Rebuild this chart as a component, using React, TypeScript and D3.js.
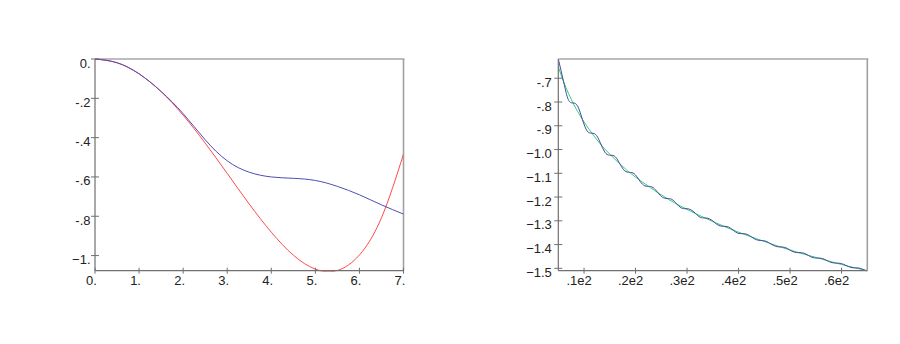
import { useEffect, useRef } from 'react';
import * as d3 from 'd3';

// left panel
const leftX = [0, 0.5, 1, 1.5, 2, 2.5, 3, 3.5, 4, 4.5, 5, 5.5, 6, 6.5, 7];
const leftRed = [0, -0.019, -0.076, -0.166, -0.286, -0.428, -0.582, -0.738, -0.881, -0.998, -1.069, -1.076, -0.997, -0.808, -0.484];
const leftBlue = [0, -0.019, -0.075, -0.165, -0.278, -0.411, -0.518, -0.576, -0.6, -0.607, -0.618, -0.648, -0.691, -0.742, -0.789];
const leftXTicks = [0, 1, 2, 3, 4, 5, 6, 7];
const leftXLabels = ['0.', '1.', '2.', '3.', '4.', '5.', '6.', '7.'];
const leftYTicks = [0, -0.2, -0.4, -0.6, -0.8, -1];
const leftYLabels = ['0.', '-.2', '-.4', '-.6', '-.8', '\u22121.'];

// right panel
const rightGreenX = [5, 6, 7, 8, 9, 10, 12, 14, 16, 18, 20, 25, 30, 35, 40, 45, 50, 55, 60, 65];
const rightGreen = [-0.652, -0.713, -0.765, -0.81, -0.849, -0.884, -0.945, -0.997, -1.041, -1.081, -1.116, -1.191, -1.252, -1.303, -1.348, -1.387, -1.423, -1.454, -1.484, -1.51];
const rightBlueX = [
  5, 6.032, 6.946, 7.86, 8.774, 9.688, 10.602, 11.516, 12.43, 13.344, 14.258, 15.172, 16.086, 17.0,
  17.914, 18.828, 19.742, 20.656, 21.57, 22.484, 23.398, 24.312, 25.226, 26.14, 27.054, 27.968,
  28.882, 29.796, 30.71, 31.624, 32.538, 33.452, 34.366, 35.28, 36.194, 37.108, 38.022, 38.936,
  39.85, 40.764, 41.678, 42.592, 43.506, 44.42, 45.334, 46.248, 47.162, 48.076, 48.99, 49.904,
  50.818, 51.732, 52.646, 53.56, 54.474, 55.388, 56.302, 57.216, 58.13, 59.044, 59.958, 60.872,
  61.786, 62.7, 63.614, 64.528, 65,
];
const rightBlue = [
  -0.619, -0.715, -0.79, -0.804, -0.818, -0.874, -0.922, -0.931, -0.941, -0.981, -1.017, -1.024, -1.031, -1.062,
  -1.09, -1.096, -1.102, -1.127, -1.15, -1.155, -1.16, -1.181, -1.201, -1.206, -1.21, -1.228,
  -1.246, -1.249, -1.253, -1.269, -1.285, -1.288, -1.292, -1.306, -1.32, -1.323, -1.326, -1.339,
  -1.352, -1.354, -1.357, -1.369, -1.38, -1.383, -1.386, -1.397, -1.407, -1.41, -1.412, -1.422,
  -1.432, -1.434, -1.436, -1.446, -1.455, -1.457, -1.459, -1.468, -1.476, -1.478, -1.48, -1.488,
  -1.496, -1.498, -1.5, -1.508, -1.511,
];
const rightXTicks = [10, 20, 30, 40, 50, 60];
const rightXLabels = ['.1e2', '.2e2', '.3e2', '.4e2', '.5e2', '.6e2'];
const rightYTicks = [-0.7, -0.8, -0.9, -1.0, -1.1, -1.2, -1.3, -1.4, -1.5];
const rightYLabels = ['-.7', '-.8', '-.9', '\u22121.0', '\u22121.1', '\u22121.2', '\u22121.3', '\u22121.4', '\u22121.5'];

type Series = { xs: number[]; ys: number[]; color: string };

function drawPanel(svg: any, id: string, opts: any) {
  const { left, right, top, bottom, xDomain, yDomain, series, xTicks, xLabels, yTicks, yLabels, xLabelShift, yLabelGap } = opts;

  const x = d3.scaleLinear().domain(xDomain).range([left, right]);
  const y = d3.scaleLinear().domain(yDomain).range([bottom, top]);

  const g = svg.append('g');

  g.append('clipPath')
    .attr('id', id)
    .append('rect')
    .attr('x', left)
    .attr('y', top - 1)
    .attr('width', right - left)
    .attr('height', bottom - top + 2);

  // frame: light top / right edges
  g.append('line')
    .attr('x1', left).attr('x2', right + 1)
    .attr('y1', top).attr('y2', top)
    .attr('stroke', '#bdbdbd').attr('stroke-width', 2);
  g.append('line')
    .attr('x1', right).attr('x2', right)
    .attr('y1', top).attr('y2', bottom)
    .attr('stroke', '#a0a0a0').attr('stroke-width', 1.6);

  // curves
  const line = d3.line<[number, number]>()
    .x((d) => x(d[0]))
    .y((d) => y(d[1]))
    .curve(d3.curveNatural);

  series.forEach((s: Series) => {
    const pts = s.xs.slice(0, Math.min(s.xs.length, s.ys.length)).map((v, i) => [v, s.ys[i]] as [number, number]);
    g.append('path')
      .attr('d', line(pts))
      .attr('fill', 'none')
      .attr('stroke', s.color)
      .attr('stroke-width', 1)
      .attr('clip-path', `url(#${id})`);
  });

  // axes
  g.append('line')
    .attr('x1', left).attr('x2', left)
    .attr('y1', top).attr('y2', bottom)
    .attr('stroke', '#707070').attr('stroke-width', 1.2);
  g.append('line')
    .attr('x1', left).attr('x2', right)
    .attr('y1', bottom).attr('y2', bottom)
    .attr('stroke', '#707070').attr('stroke-width', 1.2);

  // y ticks
  g.selectAll('line.yt')
    .data(yTicks)
    .enter()
    .append('line')
    .attr('class', 'yt')
    .attr('x1', left - 4).attr('x2', left + 4)
    .attr('y1', (d: number) => y(d)).attr('y2', (d: number) => y(d))
    .attr('stroke', '#707070').attr('stroke-width', 1);

  g.selectAll('text.yl')
    .data(yTicks)
    .enter()
    .append('text')
    .attr('class', 'yl')
    .attr('x', left - yLabelGap)
    .attr('y', (d: number) => y(d) + 8.5)
    .attr('text-anchor', 'end')
    .style('font-family', '"Liberation Sans", Arial, sans-serif')
    .style('font-size', '13px')
    .style('fill', '#222')
    .text((d: number, i: number) => yLabels[i]);

  // x ticks
  g.selectAll('line.xt')
    .data(xTicks)
    .enter()
    .append('line')
    .attr('class', 'xt')
    .attr('x1', (d: number) => x(d)).attr('x2', (d: number) => x(d))
    .attr('y1', bottom - 3).attr('y2', bottom + 3)
    .attr('stroke', '#707070').attr('stroke-width', 1);

  g.selectAll('text.xl')
    .data(xTicks)
    .enter()
    .append('text')
    .attr('class', 'xl')
    .attr('x', (d: number) => x(d) + xLabelShift)
    .attr('y', bottom + 14.5)
    .attr('text-anchor', 'middle')
    .style('font-family', '"Liberation Sans", Arial, sans-serif')
    .style('font-size', '13px')
    .style('fill', '#222')
    .text((d: number, i: number) => xLabels[i]);
}

export default function App() {
  const svgRef = useRef<SVGSVGElement>(null);

  useEffect(() => {
    const svg = d3.select(svgRef.current);
    svg.selectAll('*').remove();

    svg.append('rect').attr('width', 900).attr('height', 344).attr('fill', '#fff');

    drawPanel(svg, 'clipL', {
      left: 95, right: 403.5, top: 59, bottom: 270.7,
      xDomain: [0, 7], yDomain: [-1.077, 0],
      series: [
        { xs: leftX, ys: leftRed, color: '#ff4a4a' },
        { xs: leftX, ys: leftBlue, color: '#4d4db3' },
      ],
      xTicks: leftXTicks, xLabels: leftXLabels,
      yTicks: leftYTicks, yLabels: leftYLabels,
      xLabelShift: -3.5, yLabelGap: 4.5,
    });

    drawPanel(svg, 'clipR', {
      left: 558.3, right: 867.3, top: 59, bottom: 270.7,
      xDomain: [5, 65], yDomain: [-1.51, -0.619],
      series: [
        { xs: rightGreenX, ys: rightGreen, color: '#33cc70' },
        { xs: rightBlueX, ys: rightBlue, color: '#4848a8' },
      ],
      xTicks: rightXTicks, xLabels: rightXLabels,
      yTicks: rightYTicks, yLabels: rightYLabels,
      xLabelShift: -5, yLabelGap: 6.5,
    });
  }, []);

  return (
    <svg
      ref={svgRef}
      width={900}
      height={344}
      style={{ position: 'absolute', left: 0, top: 0, display: 'block' }}
    />
  );
}
